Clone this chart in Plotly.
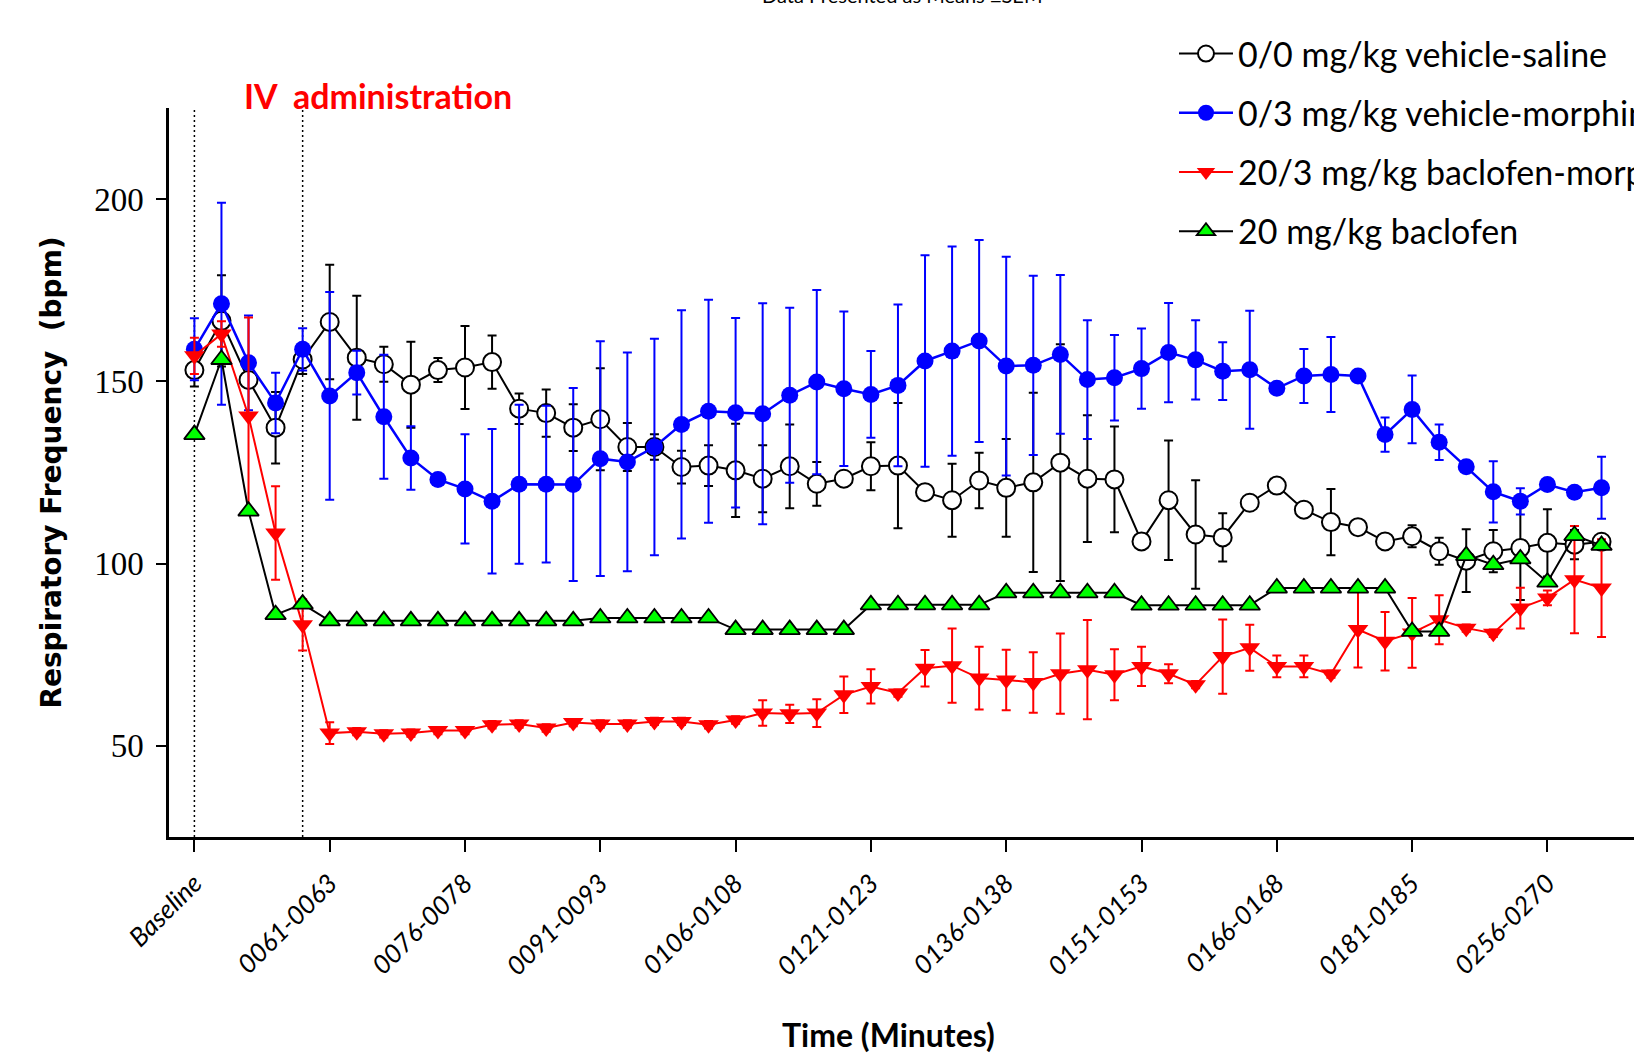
import plotly.graph_objects as go

# ---------------- data ----------------
idx = list(range(53))

tick_vals = [0, 5, 10, 15, 20, 25, 30, 35, 40, 45, 50]
tick_text = ["Baseline", "0061-0063", "0076-0078", "0091-0093", "0106-0108",
             "0121-0123", "0136-0138", "0151-0153", "0166-0168", "0181-0185",
             "0256-0270"]

saline_mean = [153.1, 166.6, 150.4, 137.3, 156.0, 166.3, 156.5, 154.7, 149.1, 153.1,
               153.8, 155.3, 142.5, 141.3, 137.3, 139.6, 132.0, 132.0, 126.5, 126.9,
               125.6, 123.3, 126.7, 121.9, 123.3, 126.7, 126.9, 119.6, 117.4, 122.8,
               120.8, 122.3, 127.7, 123.3, 123.1, 106.1, 117.4, 108.0, 107.2, 116.7,
               121.4, 114.8, 111.4, 110.0, 106.1, 107.5, 103.4, 100.8, 103.4, 104.3,
               105.7, 105.2, 106.0]
saline_sem = [4.5, 12.5, 2.0, 9.8, 4.0, 15.7, 17.0, 4.8, 11.8, 3.3,
              11.4, 7.3, 4.2, 6.5, 6.4, 14.0, 6.6, 3.5, 4.5, 5.6,
              12.8, 9.2, 11.5, 6.0, 1.5, 6.6, 17.2, 1.0, 10.0, 7.6,
              13.4, 24.6, 32.5, 17.4, 14.5, 1.0, 16.4, 14.9, 6.6, 2.0,
              2.0, 1.0, 9.1, 1.0, 1.0, 3.0, 3.7, 8.6, 5.8, 14.3,
              9.2, 4.0, 1.0]

morph_mean = [158.8, 171.3, 155.1, 144.1, 158.8, 146.0, 152.4, 140.3, 129.0, 123.1,
              120.5, 117.1, 121.8, 121.8, 121.7, 128.8, 127.9, 132.0, 138.2, 141.8,
              141.4, 141.1, 146.2, 149.8, 148.0, 146.4, 148.9, 155.6, 158.3, 161.1,
              154.2, 154.4, 157.4, 150.5, 151.0, 153.5, 157.9, 155.9, 152.8, 153.2,
              148.1, 151.5, 151.9, 151.5, 135.4, 142.3, 133.3, 126.6, 119.7, 117.1,
              121.7, 119.6, 120.8]
morph_sem = [8.5, 27.7, 13.0, 8.3, 5.8, 28.5, 6.0, 17.0, 8.7, 1.0,
             15.0, 19.8, 21.8, 21.5, 26.5, 32.2, 30.0, 29.7, 31.3, 30.6,
             26.0, 30.3, 24.0, 25.3, 21.2, 11.9, 22.2, 29.0, 28.7, 27.7,
             30.0, 24.6, 21.8, 16.3, 11.7, 11.0, 13.6, 10.9, 7.9, 16.2,
             1.0, 7.4, 10.3, 1.0, 4.7, 9.3, 4.9, 1.0, 8.4, 3.6,
             1.0, 1.0, 8.5]

bacmorph_mean = [157.0, 163.0, 140.5, 108.4, 83.2, 53.5, 53.9, 53.3, 53.5, 54.2,
                 54.2, 55.8, 56.0, 54.9, 56.4, 56.0, 56.0, 56.7, 56.7, 55.8,
                 57.1, 59.0, 58.8, 59.0, 64.0, 66.3, 64.5, 71.3, 72.0, 68.6,
                 68.1, 67.4, 69.8, 70.9, 69.5, 71.8, 69.8, 66.8, 74.5, 76.9,
                 71.8, 71.8, 69.7, 81.9, 78.7, 81.0, 84.6, 82.3, 80.9, 87.8,
                 90.6, 95.6, 93.3]
bacmorph_sem = [5.0, 3.5, 27.0, 12.8, 7.0, 3.0, 1.0, 1.0, 1.0, 1.0,
                1.0, 1.0, 1.0, 1.0, 1.0, 1.0, 1.0, 1.0, 1.0, 1.0,
                1.0, 3.5, 2.5, 3.8, 5.0, 4.7, 1.0, 5.0, 10.2, 8.6,
                8.3, 8.3, 11.0, 13.6, 7.0, 5.4, 2.6, 1.0, 10.2, 6.3,
                3.0, 3.0, 1.0, 10.4, 8.0, 9.6, 6.7, 1.0, 1.0, 5.6,
                2.0, 14.7, 13.4]

baclofen_mean = [135.4, 156.0, 114.4, 86.0, 88.9, 84.3, 84.3, 84.3, 84.3, 84.3,
                 84.3, 84.3, 84.3, 84.3, 84.3, 85.1, 85.1, 85.1, 85.1, 85.1,
                 81.9, 81.9, 81.9, 81.9, 81.9, 88.7, 88.7, 88.7, 88.7, 88.7,
                 92.0, 92.0, 92.0, 92.0, 92.0, 88.6, 88.6, 88.6, 88.6, 88.6,
                 93.3, 93.3, 93.3, 93.3, 93.3, 81.4, 81.4, 102.2, 99.7, 101.3,
                 94.9, 107.7, 105.0]

series_names = ["0/0 mg/kg vehicle-saline", "0/3 mg/kg vehicle-morphine",
                "20/3 mg/kg baclofen-morphine", "20 mg/kg baclofen"]

# ---------------- fonts ----------------
SANS = "Lato, Liberation Sans, sans-serif"
SERIF = "Liberation Serif, Times New Roman, serif"

fig = go.Figure()

def err(arr, color):
    return dict(type="data", array=arr, visible=True, color=color,
                thickness=2, width=4.5)

fig.add_trace(go.Scatter(
    x=idx, y=saline_mean, name=series_names[0], mode="lines+markers",
    line=dict(color="black", width=2),
    marker=dict(symbol="circle", size=18, color="white",
                line=dict(color="black", width=2)),
    error_y=err(saline_sem, "black"), legendgroup="a"))

fig.add_trace(go.Scatter(
    x=idx, y=morph_mean, name=series_names[1], mode="lines+markers",
    line=dict(color="#0000FF", width=2.5),
    marker=dict(symbol="circle", size=17, color="#0000FF",
                line=dict(color="#0000FF", width=0)),
    error_y=err(morph_sem, "#0000FF"), legendgroup="b"))

fig.add_trace(go.Scatter(
    x=idx, y=bacmorph_mean, name=series_names[2], mode="lines+markers",
    line=dict(color="#FF0000", width=2),
    marker=dict(symbol="triangle-down", size=18, color="#FF0000",
                line=dict(color="#FF0000", width=0)),
    error_y=err(bacmorph_sem, "#FF0000"), legendgroup="c"))

fig.add_trace(go.Scatter(
    x=idx, y=baclofen_mean, name=series_names[3], mode="lines+markers",
    line=dict(color="black", width=2),
    marker=dict(symbol="triangle-up", size=18, color="#00FF00",
                line=dict(color="black", width=1.8)),
    legendgroup="d"))

# dotted reference lines (baseline and IV administration)
for xv in [0, 4]:
    fig.add_shape(type="line", xref="x", yref="y", x0=xv, x1=xv, y0=25, y1=225,
                  line=dict(color="black", width=1.5, dash="2px,3px"), layer="below")

fig.add_annotation(text="<b>IV  administration</b>", xref="paper", yref="paper",
                   x=0.0499, y=1.0165, xanchor="left", yanchor="middle",
                   showarrow=False, font=dict(family=SANS, size=34, color="#FF0000"))

fig.add_annotation(text="Data Presented as Means ±SEM", xref="paper", yref="paper",
                   x=0.5, y=1.1358, xanchor="center", yanchor="bottom",
                   showarrow=False, font=dict(family=SANS, size=20, color="black"))

# x-axis title, centred where the reference puts it
fig.add_annotation(text="<b>Time (Minutes)</b>", xref="paper", yref="paper",
                   x=0.4908, y=-0.2716, xanchor="center", yanchor="middle",
                   showarrow=False, font=dict(family=SANS, size=32, color="black"))

fig.update_layout(
    width=1634, height=1054,
    margin=dict(l=169, r=0, t=108, b=217, autoexpand=False),
    plot_bgcolor="white", paper_bgcolor="white",
    showlegend=True,
    legend=dict(x=0.6860, y=1.1139, xanchor="left", yanchor="top",
                font=dict(family=SANS, size=34, color="black"),
                itemwidth=54, bgcolor="rgba(0,0,0,0)", traceorder="grouped",
                tracegroupgap=12),
    xaxis=dict(range=[-0.9387, 53.2], showline=True, linecolor="black", linewidth=2.5,
               ticks="outside", ticklen=12, tickwidth=2, tickcolor="black",
               tickvals=tick_vals, ticktext=tick_text, tickangle=-45,
               ticklabelstandoff=6,
               tickfont=dict(family=SANS, size=26, color="black", style="italic"),
               showgrid=False, zeroline=False),
    yaxis=dict(range=[25, 225], showline=True, linecolor="black", linewidth=2.5,
               ticks="outside", ticklen=10, tickwidth=2, tickcolor="black",
               tickvals=[50, 100, 150, 200], ticklabelstandoff=6,
               tickfont=dict(family=SERIF, size=33, color="black"),
               showgrid=False, zeroline=False,
               title=dict(text="<b>Respiratory Frequency\u00a0 (bpm)</b>", standoff=25,
                          font=dict(family="DejaVu Sans", size=28, color="black"))),
)

fig.write_html("out.html", post_script="document.body.style.margin='0';",
               config={"displayModeBar": False})
